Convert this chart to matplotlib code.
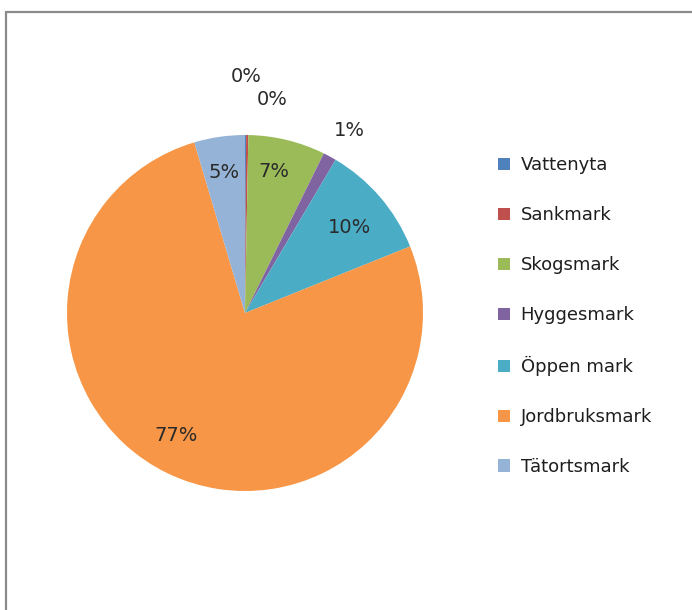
import matplotlib.pyplot as plt
from matplotlib.patches import Patch, Rectangle
import numpy as np

# Markanvändning, andel av total yta (%)
kategorier = ['Vattenyta', 'Sankmark', 'Skogsmark', 'Hyggesmark',
              'Öppen mark', 'Jordbruksmark', 'Tätortsmark']
andel = [0.1, 0.2, 7.0, 1.2, 10.4, 76.5, 4.6]
etiketter = ['0%', '0%', '7%', '1%', '10%', '77%', '5%']
farger = ['#4F81BD', '#C0504D', '#9BBB59', '#8064A2',
          '#4BACC6', '#F79646', '#95B3D7']

W, H = 692, 610
fig = plt.figure(figsize=(W / 100, H / 100), dpi=100)

# ram runt diagramytan
fig.patches.append(Rectangle((6 / W, -0.1), 1.2, 1 - 12 / H + 0.1,
                             transform=fig.transFigure, fill=False,
                             edgecolor='#8a8a8a', linewidth=1.6))

cx, cy, r = 245, 313, 178
ax = fig.add_axes([(cx - r) / W, 1 - (cy + r) / H, 2 * r / W, 2 * r / H])
ax.pie(andel, colors=farger, startangle=90, counterclock=False,
       wedgeprops=dict(linewidth=0))
ax.set_xlim(-1, 1)
ax.set_ylim(-1, 1)
ax.set_aspect('equal')
ax.axis('off')

# etiketter: stora andelar inuti, små utanför
grans = np.cumsum([0] + andel) / sum(andel)
mitt = (grans[:-1] + grans[1:]) / 2
avstand = [1.33, 1.21, 0.81, 1.18, 0.755, 0.79, 0.80]
vridning = [0.0, 6.5, -2.1, 1.2, 1.4, 3.6, -0.2]
for i, txt in enumerate(etiketter):
    vinkel = np.deg2rad(90 - mitt[i] * 360 - vridning[i])
    ax.text(avstand[i] * np.cos(vinkel), avstand[i] * np.sin(vinkel), txt,
            ha='center', va='center', fontsize=14, color='#2a2a2a')

handtag = [Patch(facecolor=f, edgecolor='none') for f in farger]
fig.legend(handtag, kategorier, loc='upper left',
           bbox_to_anchor=(489 / W, 1 - 147 / H), frameon=False,
           borderpad=0, fontsize=13, labelspacing=1.77, handlelength=0.65,
           handleheight=0.65, handletextpad=0.6, labelcolor='#1e1e1e')

fig.savefig('out.png', dpi=100, facecolor='white')
